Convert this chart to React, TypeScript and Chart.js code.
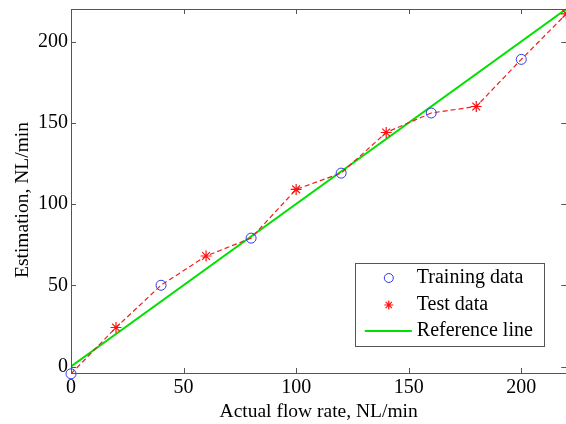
import React, { useEffect, useRef } from "react";
import { Chart, registerables } from "chart.js";
Chart.register(...registerables);

const trainX = [0, 40, 80, 120, 160, 200];
const trainY = [-4.5, 50, 79, 119, 156, 189];
const testX = [20, 60, 100, 140, 180, 220];
const testY = [24, 68, 109, 144, 160, 217];
const refX = [0, 220];
const refY = [0, 220];
const xTicks = [0, 50, 100, 150, 200];
const yTicks = [0, 50, 100, 150, 200];
const xRange = [0, 220];
const yRange = [-4, 220];
const labels = ["Training data", "Test data", "Reference line"];
const xTitle = "Actual flow rate, NL/min";
const yTitle = "Estimation, NL/min";

const FONT = "'Liberation Serif', 'Times New Roman', serif";
const AXIS = "#555";

const boxPlugin = {
  id: "boxTicks",
  afterDraw(chart: any) {
    const { ctx, chartArea: a, scales } = chart;
    ctx.save();
    ctx.strokeStyle = AXIS;
    ctx.lineWidth = 1;
    ctx.strokeRect(a.left + 0.5, a.top + 0.5, a.right - a.left, a.bottom - a.top);
    const tl = 5;
    ctx.beginPath();
    xTicks.forEach((v) => {
      const px = Math.round(scales.x.getPixelForValue(v)) + 0.5;
      ctx.moveTo(px, a.bottom);
      ctx.lineTo(px, a.bottom - tl);
      ctx.moveTo(px, a.top);
      ctx.lineTo(px, a.top + tl);
    });
    yTicks.forEach((v) => {
      const py = Math.round(scales.y.getPixelForValue(v)) + 0.5;
      ctx.moveTo(a.left, py);
      ctx.lineTo(a.left + tl, py);
      ctx.moveTo(a.right, py);
      ctx.lineTo(a.right - tl, py);
    });
    ctx.stroke();

    // y axis title
    ctx.save();
    ctx.translate(23, (a.top + a.bottom) / 2 + 9);
    ctx.rotate(-Math.PI / 2);
    ctx.font = "19.5px " + FONT;
    ctx.fillStyle = "#000";
    ctx.textAlign = "center";
    ctx.textBaseline = "middle";
    ctx.fillText(yTitle, 0, 0);
    ctx.restore();

    // legend
    const bw = 189, bh = 83;
    const bx = a.right - 22.5 - bw;
    const by = a.bottom - 27 - bh;
    ctx.fillStyle = "#fff";
    ctx.fillRect(bx, by, bw, bh);
    ctx.strokeStyle = AXIS;
    ctx.strokeRect(Math.round(bx) + 0.5, Math.round(by) + 0.5, bw, bh);
    ctx.font = "20px " + FONT;
    ctx.fillStyle = "#000";
    ctx.textBaseline = "middle";
    ctx.textAlign = "left";
    const ds = chart.data.datasets;
    const mx = bx + 34;
    const tx = bx + 62;
    const rows = [by + 15, by + 42, by + 68];
    ctx.strokeStyle = ds[0].borderColor;
    ctx.lineWidth = 1;
    ctx.beginPath();
    ctx.arc(mx, rows[0], 4.5, 0, Math.PI * 2);
    ctx.stroke();
    ctx.strokeStyle = ds[1].borderColor;
    ctx.lineWidth = 1.2;
    ctx.beginPath();
    const r = 4.5;
    for (let k = 0; k < 4; k++) {
      const ang = (k * Math.PI) / 4;
      ctx.moveTo(mx - r * Math.sin(ang), rows[1] - r * Math.cos(ang));
      ctx.lineTo(mx + r * Math.sin(ang), rows[1] + r * Math.cos(ang));
    }
    ctx.stroke();
    ctx.strokeStyle = ds[3].borderColor;
    ctx.lineWidth = 2;
    ctx.beginPath();
    ctx.moveTo(bx + 10, rows[2]);
    ctx.lineTo(bx + 57, rows[2]);
    ctx.stroke();
    ctx.fillText(labels[0], tx, rows[0]);
    ctx.fillText(labels[1], tx, rows[1]);
    ctx.fillText(labels[2], tx, rows[2]);
    ctx.restore();
  },
};

export default function App() {
  const ref = useRef<HTMLCanvasElement>(null);
  useEffect(() => {
    const trainPts = trainX.map((x, i) => ({ x, y: trainY[i] }));
    const testPts = testX.map((x, i) => ({ x, y: testY[i] }));
    const allPts = [...trainPts, ...testPts].sort((p, q) => p.x - q.x);
    const refPts = refX.map((x, i) => ({ x, y: refY[i] }));
    const chart = new Chart(ref.current!, {
      type: "scatter",
      data: {
        datasets: [
          {
            label: labels[0],
            data: trainPts,
            showLine: false,
            pointStyle: "circle",
            pointRadius: 5,
            borderColor: "#3838e8",
            backgroundColor: "rgba(0,0,0,0)",
            borderWidth: 1,
            clip: false,
          } as any,
          {
            label: labels[1],
            data: testPts,
            showLine: false,
            pointStyle: "star",
            pointRadius: 5.5,
            borderColor: "#ff1010",
            backgroundColor: "rgba(0,0,0,0)",
            borderWidth: 1.2,
            clip: false,
          },
          {
            label: "",
            data: allPts,
            showLine: true,
            pointRadius: 0,
            borderColor: "#ee2020",
            borderWidth: 1.2,
            borderDash: [5, 3],
          },
          {
            label: labels[2],
            data: refPts,
            showLine: true,
            pointRadius: 0,
            borderColor: "#00e000",
            borderWidth: 2,
          },
        ],
      },
      options: {
        animation: false,
        responsive: false,
        layout: { padding: { top: 9, left: 0, right: 0, bottom: 0 } },
        plugins: { legend: { display: false }, tooltip: { enabled: false } },
        scales: {
          x: {
            type: "linear",
            min: xRange[0],
            max: xRange[1],
            afterBuildTicks: (s: any) => {
              s.ticks = xTicks.map((v) => ({ value: v }));
            },
            afterFit: (s: any) => {
              s.height = 51;
              s.paddingLeft = 0;
              s.paddingRight = 0;
            },
            grid: { display: false, drawTicks: false },
            border: { display: false },
            ticks: {
              color: "#000",
              font: { family: FONT, size: 20 },
              padding: 3,
              maxRotation: 0,
            },
            title: {
              display: true,
              text: xTitle,
              color: "#000",
              font: { family: FONT, size: 19.5, lineHeight: 1.2 },
              padding: 0,
            },
          },
          y: {
            type: "linear",
            min: yRange[0],
            max: yRange[1],
            afterBuildTicks: (s: any) => {
              s.ticks = yTicks.map((v) => ({ value: v }));
            },
            afterFit: (s: any) => {
              s.width = 71;
              s.paddingTop = 0;
              s.paddingBottom = 0;
            },
            grid: { display: false, drawTicks: false },
            border: { display: false },
            ticks: {
              color: "#000",
              font: { family: FONT, size: 20 },
              padding: 3,
            },
            title: { display: false },
          },
        },
      },
      plugins: [boxPlugin],
    });
    return () => chart.destroy();
  }, []);
  return (
    <div
      style={{
        position: "fixed",
        left: 0,
        top: 0,
        width: 566,
        height: 424,
        overflow: "hidden",
        background: "#fff",
      }}
    >
      <canvas ref={ref} width={573} height={424} style={{ width: 573, height: 424 }} />
    </div>
  );
}
